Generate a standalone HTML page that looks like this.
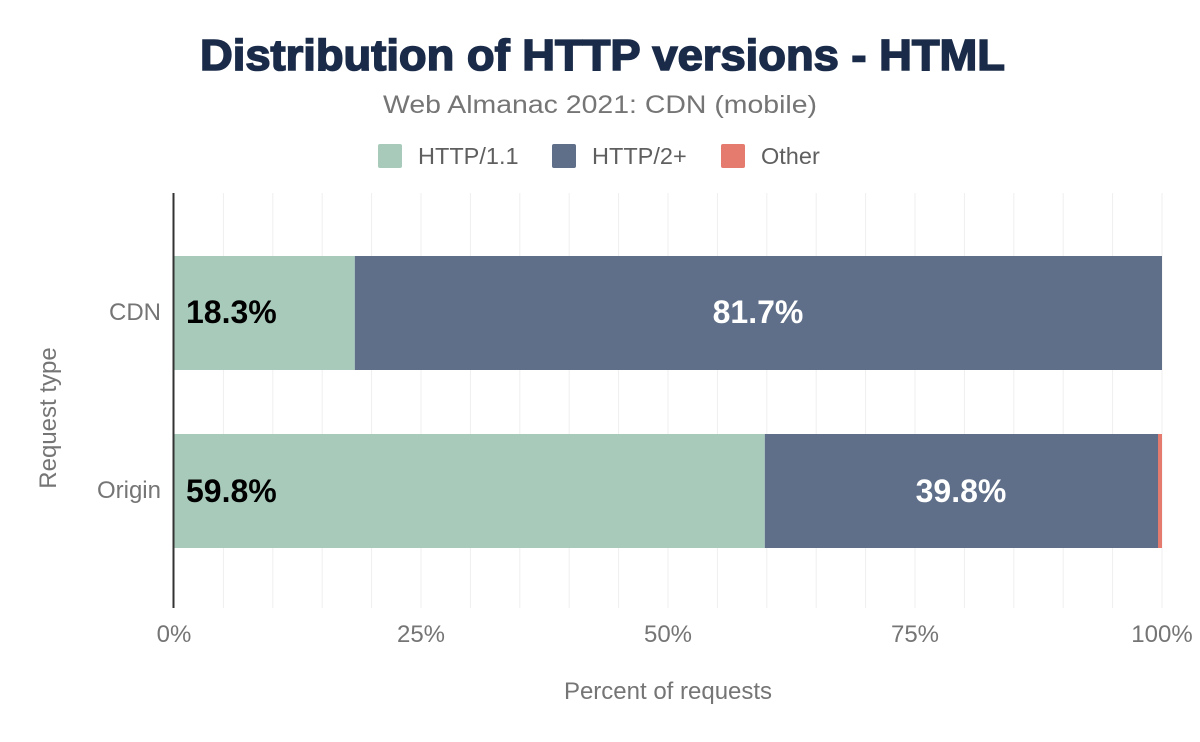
<!DOCTYPE html>
<html><head><meta charset="utf-8"><style>
body{margin:0;background:#fff;}
svg{display:block;font-family:"Liberation Sans",Arial,sans-serif;}
</style></head><body>
<svg width="1200" height="742" viewBox="0 0 1200 742" xmlns="http://www.w3.org/2000/svg">
<rect width="1200" height="742" fill="#fff"/>
<text x="200" y="70" textLength="805" lengthAdjust="spacingAndGlyphs" font-size="44" font-weight="900" fill="#1a2b49" stroke="#1a2b49" stroke-width="1.6">Distribution of HTTP versions - HTML</text>
<text x="383" y="113" textLength="434" lengthAdjust="spacingAndGlyphs" font-size="25" fill="#757575">Web Almanac 2021: CDN (mobile)</text>
<rect x="378" y="144" width="24" height="24" rx="2" fill="#a8cabb"/>
<text x="418" y="164" font-size="23.5" fill="#5f5f5f">HTTP/1.1</text>
<rect x="552" y="144" width="24" height="24" rx="2" fill="#5f6f89"/>
<text x="592" y="164" font-size="23.5" fill="#5f5f5f">HTTP/2+</text>
<rect x="721" y="144" width="24" height="24" rx="2" fill="#e57a6f"/>
<text x="761" y="164" font-size="23.5" fill="#5f5f5f">Other</text>
<g stroke="#efefef" stroke-width="1">
<line x1="223.4" y1="193" x2="223.4" y2="608"/><line x1="272.8" y1="193" x2="272.8" y2="608"/><line x1="322.2" y1="193" x2="322.2" y2="608"/><line x1="371.6" y1="193" x2="371.6" y2="608"/><line x1="421" y1="193" x2="421" y2="608"/><line x1="470.4" y1="193" x2="470.4" y2="608"/><line x1="519.8" y1="193" x2="519.8" y2="608"/><line x1="569.2" y1="193" x2="569.2" y2="608"/><line x1="618.6" y1="193" x2="618.6" y2="608"/><line x1="668" y1="193" x2="668" y2="608"/><line x1="717.4" y1="193" x2="717.4" y2="608"/><line x1="766.8" y1="193" x2="766.8" y2="608"/><line x1="816.2" y1="193" x2="816.2" y2="608"/><line x1="865.6" y1="193" x2="865.6" y2="608"/><line x1="915" y1="193" x2="915" y2="608"/><line x1="964.4" y1="193" x2="964.4" y2="608"/><line x1="1013.8" y1="193" x2="1013.8" y2="608"/><line x1="1063.2" y1="193" x2="1063.2" y2="608"/><line x1="1112.6" y1="193" x2="1112.6" y2="608"/><line x1="1162" y1="193" x2="1162" y2="608"/>
</g>
<rect x="174" y="256" width="180.8" height="114" fill="#a8cabb"/>
<rect x="354.8" y="256" width="807.2" height="114" fill="#5f6f89"/>
<rect x="174" y="434" width="590.8" height="114" fill="#a8cabb"/>
<rect x="764.8" y="434" width="393.2" height="114" fill="#5f6f89"/>
<rect x="1158" y="434" width="4" height="114" fill="#e57a6f"/>
<line x1="173.5" y1="193" x2="173.5" y2="608" stroke="#333" stroke-width="2"/>
<g font-size="32" font-weight="bold">
<text x="186" y="323" fill="#000">18.3%</text>
<text x="758" y="323" text-anchor="middle" fill="#fff">81.7%</text>
<text x="186" y="502" fill="#000">59.8%</text>
<text x="961" y="502" text-anchor="middle" fill="#fff">39.8%</text>
</g>
<g font-size="24" fill="#757575">
<text x="161" y="320" text-anchor="end">CDN</text>
<text x="161" y="498" text-anchor="end">Origin</text>
<text x="174" y="642" text-anchor="middle">0%</text>
<text x="421" y="642" text-anchor="middle">25%</text>
<text x="668" y="642" text-anchor="middle">50%</text>
<text x="915" y="642" text-anchor="middle">75%</text>
<text x="1162" y="642" text-anchor="middle">100%</text>
<text x="668" y="699" text-anchor="middle">Percent of requests</text>
<text transform="translate(56,418) rotate(-90)" text-anchor="middle">Request type</text>
</g>
</svg>
</body></html>
